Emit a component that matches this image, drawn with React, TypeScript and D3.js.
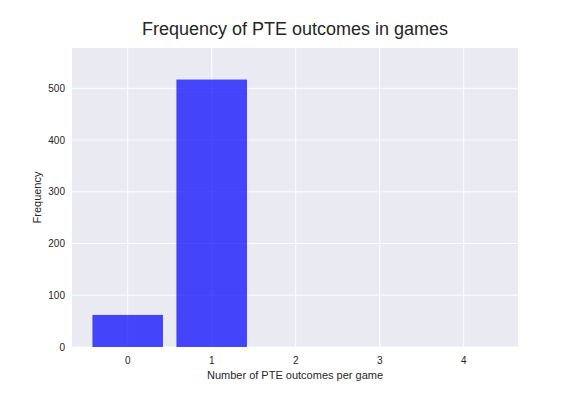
import React from 'react';
import * as d3 from 'd3';

// values
const outcomes = [0, 1, 2, 3, 4];
const counts = [62, 517, 0, 0, 0];
const yTicks = [0, 100, 200, 300, 400, 500];

const W = 576;
const H = 396;
const margin = { top: 48, right: 58, bottom: 49, left: 72 };
const plotW = W - margin.left - margin.right;
const plotH = H - margin.top - margin.bottom;

const x = d3.scaleLinear().domain([-0.663, 4.646]).range([0, plotW]);
const y = d3.scaleLinear().domain([0, 578]).range([plotH, 0]);
const barW = 0.84;

const font = '"Liberation Sans", Arial, sans-serif';

export default function App() {
  return (
    <svg width={W} height={H} style={{ position: 'absolute', left: 0, top: 0, background: '#fff' }}>
      <g transform={`translate(${margin.left},${margin.top})`}>
        <rect width={plotW} height={plotH} fill="#EAEAF2" />
        {outcomes.map(d => (
          <line key={'gx' + d} x1={x(d)} x2={x(d)} y1={0} y2={plotH} stroke="#fff" strokeWidth={1} />
        ))}
        {yTicks.map(t => (
          <line key={'gy' + t} x1={0} x2={plotW} y1={y(t)} y2={y(t)} stroke="#fff" strokeWidth={1} />
        ))}
        {outcomes.map((d, i) => counts[i] > 0 && (
          <rect
            key={'b' + d}
            x={x(d - barW / 2)}
            width={x(barW) - x(0)}
            y={y(counts[i])}
            height={plotH - y(counts[i])}
            fill="#0000ff"
            fillOpacity={0.71}
          />
        ))}
        {outcomes.map(d => (
          <text key={'tx' + d} x={x(d)} y={plotH + 17} textAnchor="middle" fontFamily={font} fontSize={10} fill="#262626">{d}</text>
        ))}
        {yTicks.map(t => (
          <text key={'ty' + t} x={-7} y={y(t)} dy="0.35em" textAnchor="end" fontFamily={font} fontSize={10} fill="#262626">{t}</text>
        ))}
        <text x={plotW / 2} y={plotH + 32} textAnchor="middle" fontFamily={font} fontSize={11} fill="#262626">Number of PTE outcomes per game</text>
        <text transform={`translate(-31,${plotH / 2}) rotate(-90)`} textAnchor="middle" fontFamily={font} fontSize={11} fill="#262626">Frequency</text>
        <text x={plotW / 2} y={-13} textAnchor="middle" fontFamily={font} fontSize={18} fill="#262626">Frequency of PTE outcomes in games</text>
      </g>
    </svg>
  );
}
